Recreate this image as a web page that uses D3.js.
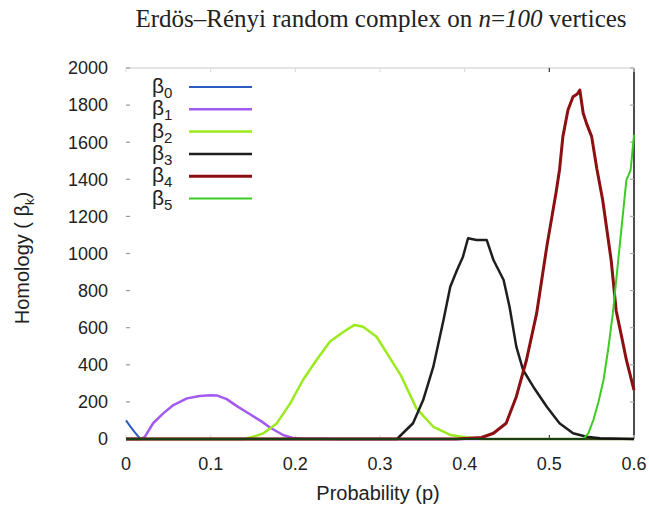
<!DOCTYPE html>
<html lang="en">
<head>
  <meta charset="UTF-8">
  <title>Erdos-Renyi random complex</title>
  <script src="https://d3js.org/d3.v7.min.js"></script>
  <style>
    body {
      margin: 0;
      background: #fff;
      font-family: "Liberation Sans", Arial, sans-serif;
    }
    svg {
      display: block;
    }
    .tick-label {
      font-size: 18px;
      fill: #222;
    }
  </style>
</head>
<body>

<div id="chart"></div>

<script>
  // Values: probability p and Betti number for each curve
  const beta0P = [0, 0.005, 0.01, 0.017, 0.03, 0.6];
  const beta0V = [100, 68, 38, 0, 0, 0];

  const beta1P = [0, 0.017, 0.022, 0.032, 0.044, 0.056, 0.072, 0.087, 0.1, 0.107, 0.119, 0.13, 0.146, 0.16, 0.17, 0.186, 0.197, 0.21, 0.23, 0.25, 0.6];
  const beta1V = [0, 0, 10, 85, 138, 183, 219, 232, 236, 235, 215, 180, 135, 95, 62, 20, 6, 2, 1, 0, 0];

  const beta2P = [0, 0.14, 0.15, 0.162, 0.178, 0.194, 0.209, 0.225, 0.241, 0.257, 0.27, 0.28, 0.296, 0.312, 0.325, 0.343, 0.363, 0.383, 0.4, 0.42, 0.6];
  const beta2V = [0, 0, 12, 30, 84, 192, 318, 426, 525, 578, 615, 605, 551, 435, 340, 165, 66, 22, 10, 0, 0];

  const beta3P = [0, 0.32, 0.339, 0.351, 0.363, 0.375, 0.383, 0.391, 0.398, 0.404, 0.414, 0.426, 0.434, 0.446, 0.453, 0.461, 0.469, 0.481, 0.497, 0.512, 0.528, 0.544, 0.56, 0.6];
  const beta3V = [0, 0, 85, 210, 390, 641, 821, 911, 983, 1082, 1073, 1073, 965, 857, 713, 498, 372, 282, 174, 85, 31, 12, 4, 0];

  const beta4P = [0, 0.39, 0.42, 0.434, 0.449, 0.461, 0.473, 0.485, 0.497, 0.508, 0.512, 0.516, 0.522, 0.528, 0.533, 0.536, 0.54, 0.544, 0.55, 0.556, 0.563, 0.573, 0.579, 0.585, 0.591, 0.6];
  const beta4V = [0, 0, 8, 31, 85, 228, 426, 677, 1037, 1330, 1450, 1630, 1774, 1845, 1860, 1881, 1756, 1700, 1630, 1460, 1288, 965, 690, 560, 426, 264];

  const beta5P = [0, 0.54, 0.546, 0.552, 0.558, 0.564, 0.57, 0.575, 0.583, 0.591, 0.596, 0.6];
  const beta5V = [0, 0, 30, 102, 200, 318, 500, 677, 1037, 1396, 1450, 1640];

  const seriesNames = ["0", "1", "2", "3", "4", "5"];
  const seriesColors = ["#2d5cc0", "#a35af0", "#9bea1e", "#1e1e1e", "#8c0f12", "#3ccc23"];
  const seriesWidths = [2, 2.5, 2.5, 2.5, 3, 2];

  const xTicks = [0, 0.1, 0.2, 0.3, 0.4, 0.5, 0.6];
  const yTicks = [0, 200, 400, 600, 800, 1000, 1200, 1400, 1600, 1800, 2000];

  const width = 649, height = 508;
  const margin = {top: 68, right: 15, bottom: 69, left: 126};

  const svg = d3.select("#chart")
                .append("svg")
                .attr("width", width)
                .attr("height", height);

  const x = d3.scaleLinear()
              .domain([0, 0.6])
              .range([margin.left, width - margin.right]);

  const y = d3.scaleLinear()
              .domain([0, 2000])
              .range([height - margin.bottom, margin.top]);

  // build the series from the arrays
  const allP = [beta0P, beta1P, beta2P, beta3P, beta4P, beta5P];
  const allV = [beta0V, beta1V, beta2V, beta3V, beta4V, beta5V];
  const series = seriesNames.map((name, i) => ({
    name: name,
    color: seriesColors[i],
    width: seriesWidths[i],
    values: allP[i].map((p, j) => ({p: p, v: allV[i][j]}))
  }));

  // Title (serif, n and 100 in italic)
  const title = svg.append("text")
     .attr("x", 381)
     .attr("y", 27)
     .attr("text-anchor", "middle")
     .style("font-family", "'Liberation Serif', 'Times New Roman', serif")
     .style("font-size", "25px")
     .style("fill", "#222");
  title.append("tspan").text("Erdös–Rényi random complex on ");
  title.append("tspan").style("font-style", "italic").text("n");
  title.append("tspan").text("=");
  title.append("tspan").style("font-style", "italic").text("100");
  title.append("tspan").text(" vertices");

  // frame: light top, dark right and bottom
  svg.append("line")
     .attr("x1", x(0)).attr("x2", x(0.6))
     .attr("y1", y(2000)).attr("y2", y(2000))
     .attr("stroke", "#c8cccc").attr("stroke-width", 1.2);
  svg.append("line")
     .attr("x1", x(0.6)).attr("x2", x(0.6))
     .attr("y1", y(2000)).attr("y2", y(0))
     .attr("stroke", "#111").attr("stroke-width", 1.5);

  // ticks on left and right, inside the box
  svg.selectAll(".ytick-l")
     .data(yTicks)
     .join("line")
     .attr("x1", x(0)).attr("x2", x(0) + 4)
     .attr("y1", d => y(d)).attr("y2", d => y(d))
     .attr("stroke", "#999").attr("stroke-width", 1.2);
  svg.selectAll(".ytick-r")
     .data(yTicks)
     .join("line")
     .attr("x1", x(0.6) - 4).attr("x2", x(0.6))
     .attr("y1", d => y(d)).attr("y2", d => y(d))
     .attr("stroke", "#aaa").attr("stroke-width", 1.2);
  svg.selectAll(".xtick-t")
     .data(xTicks)
     .join("line")
     .attr("x1", d => x(d)).attr("x2", d => x(d))
     .attr("y1", y(2000)).attr("y2", y(2000) + 4)
     .attr("stroke", d => d === 0.5 ? "#333" : "#ddd").attr("stroke-width", 1.2);
  svg.selectAll(".xtick-b")
     .data(xTicks)
     .join("line")
     .attr("x1", d => x(d)).attr("x2", d => x(d))
     .attr("y1", y(0)).attr("y2", y(0) - 4)
     .attr("stroke", d => d === 0.5 ? "#333" : "#ddd").attr("stroke-width", 1.2);

  // tick labels
  svg.selectAll(".ylab")
     .data(yTicks)
     .join("text")
     .attr("class", "tick-label")
     .attr("x", 108)
     .attr("y", d => y(d))
     .attr("dy", "0.35em")
     .attr("text-anchor", "end")
     .text(d => d);

  svg.selectAll(".xlab")
     .data(xTicks)
     .join("text")
     .attr("class", "tick-label")
     .attr("x", d => x(d))
     .attr("y", 470)
     .attr("text-anchor", "middle")
     .text(d => d === 0 ? "0" : d3.format(".1f")(d));

  // axis titles
  svg.append("text")
     .attr("x", 378)
     .attr("y", 500)
     .attr("text-anchor", "middle")
     .style("font-size", "20px")
     .style("fill", "#222")
     .text("Probability (p)");

  const ytitle = svg.append("text")
     .attr("transform", "translate(29,258) rotate(-90)")
     .attr("text-anchor", "middle")
     .style("font-size", "20px")
     .style("fill", "#222");
  ytitle.append("tspan").text("Homology ( β");
  ytitle.append("tspan").attr("dy", 5).style("font-size", "13px").text("k");
  ytitle.append("tspan").attr("dy", -5).text(")");

  // curves
  const line = d3.line()
                 .x(d => x(d.p))
                 .y(d => y(d.v));

  svg.append("g")
     .selectAll("path")
     .data(series)
     .join("path")
     .attr("d", d => line(d.values))
     .attr("fill", "none")
     .attr("stroke", d => d.color)
     .attr("stroke-width", d => d.width)
     .attr("stroke-linejoin", "round");

  // bottom axis line drawn over the flat parts of the curves
  svg.append("line")
     .attr("x1", x(0)).attr("x2", x(0.6))
     .attr("y1", y(0)).attr("y2", y(0))
     .attr("stroke", "#111").attr("stroke-width", 1.5);

  // legend
  const legend = svg.append("g")
                    .selectAll("g")
                    .data(series)
                    .join("g")
                    .attr("transform", (d, i) => `translate(0,${87 + i * 22.3})`);

  legend.append("line")
        .attr("x1", 189).attr("x2", 252)
        .attr("y1", 0).attr("y2", 0)
        .attr("stroke", d => d.color)
        .attr("stroke-width", d => d.width);

  const lt = legend.append("text")
        .attr("x", 152)
        .attr("y", 6)
        .style("font-size", "21px")
        .style("fill", "#222");
  lt.append("tspan").text("β");
  lt.append("tspan").attr("dy", 5).style("font-size", "15px").text(d => d.name);
</script>

</body>
</html>
